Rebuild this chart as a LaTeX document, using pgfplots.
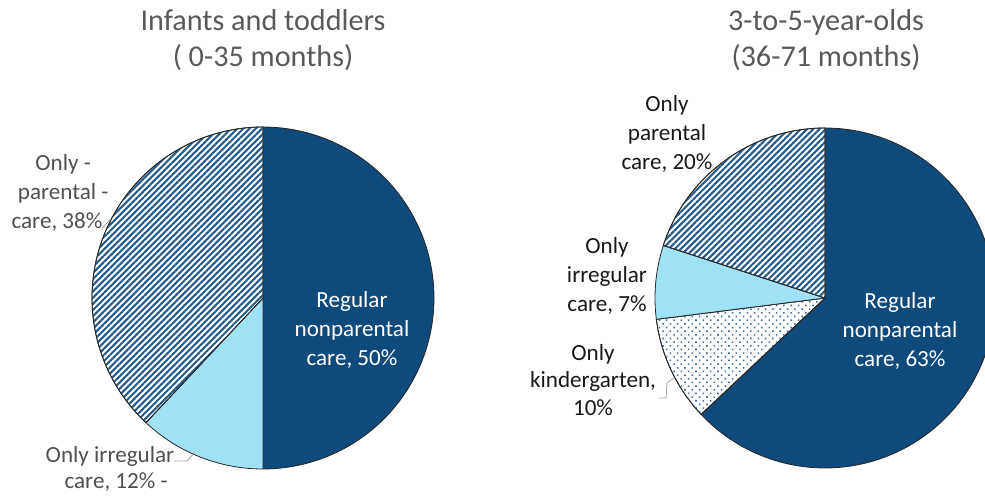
\documentclass[border=0pt]{standalone}
\usepackage{fontspec}
\setmainfont{Carlito}
\usepackage{pgfplots}
\pgfplotsset{compat=1.18}
\usetikzlibrary{patterns.meta}
\definecolor{navy}{HTML}{0E4A7B}
\definecolor{lblue}{HTML}{9FE1F7}
\definecolor{hatchc}{HTML}{245A8B}
\definecolor{dotc}{HTML}{3E6E9E}
\definecolor{titlegray}{HTML}{595959}
\definecolor{lblgray}{HTML}{505050}
\definecolor{leader}{HTML}{A6A6A6}
% share values (percent) of each pie, cumulated from 12 o'clock clockwise
\newcommand{\slice}[6]{% cx, cy, r, from%, to%, style
  \pgfmathsetmacro{\dlo}{90-3.6*#5}%
  \pgfmathsetmacro{\dhi}{90-3.6*#4}%
  \addplot[#6, domain=\dlo:\dhi, samples=140] ({#1+#3*cos(x)}, {#2+#3*sin(x)}) -- (axis cs:#1,#2) -- cycle;
}
\tikzset{
  sl/.style={draw=black!85, line width=0.8pt},
  regular/.style={sl, fill=navy},
  irregular/.style={sl, fill=lblue},
  parental/.style={sl, preaction={fill=white}, pattern={Lines[angle=45,distance=4.4pt,line width=2.1pt]}, pattern color=hatchc},
  kinder/.style={sl, preaction={fill=white}, pattern={Dots[angle=45,distance=5.2pt,radius=1.1pt]}, pattern color=dotc},
}
\begin{document}
\begin{tikzpicture}
\begin{axis}[
  hide axis, scale only axis,
  width=985bp, height=496bp,
  xmin=0, xmax=985, ymin=0, ymax=496,
  clip=true,
]
% Infants and toddlers: Regular 50, Irregular 12, Parental 38
\slice{263}{198}{171}{0}{50}{regular}
\slice{263}{198}{171}{50}{62}{irregular}
\slice{263}{198}{171}{62}{100}{parental}
% 3-to-5-year-olds: Regular 63, Kindergarten 10, Irregular 7, Parental 20
\slice{825}{198}{170}{0}{63}{regular}
\slice{825}{198}{170}{63}{73}{kinder}
\slice{825}{198}{170}{73}{80}{irregular}
\slice{825}{198}{170}{80}{100}{parental}

% titles
\node[align=center, text=titlegray, font=\fontsize{30.3}{36}\selectfont] at (axis cs:263,456) {Infants and toddlers\\( 0-35 months)};
\node[align=center, text=titlegray, font=\fontsize{30.3}{36}\selectfont] at (axis cs:826,456) {3-to-5-year-olds\\(36-71 months)};

% left labels
\node[align=center, text=white, font=\fontsize{23.2}{29}\selectfont] at (axis cs:352,166) {Regular\\nonparental\\care, 50\%};
\node[align=center, text=lblgray, font=\fontsize{23.2}{29.5}\selectfont] at (axis cs:57,303) {Only\rlap{ -}\\parental\rlap{ -}\\care, 38\%};
\node[align=center, text=lblgray, font=\fontsize{23.2}{27}\selectfont] at (axis cs:110,27) {Only irregular\\care, 12\%\rlap{ -}};
\draw[leader, line width=0.8pt] (axis cs:174,35) -- (axis cs:187,35) -- (axis cs:195,44);
\draw[leader, line width=0.8pt] (axis cs:102,268) -- (axis cs:110,276);

% right labels
\node[align=center, text=black!90, font=\fontsize{23.2}{29.5}\selectfont] at (axis cs:667,362) {Only\\parental\\care, 20\%};
\node[align=center, text=black!90, font=\fontsize{23.2}{29.5}\selectfont] at (axis cs:607,220) {Only\\irregular\\care, 7\%};
\node[align=center, text=black!90, font=\fontsize{23.2}{28}\selectfont] at (axis cs:593,116) {Only\\kindergarten,\\10\%};
\node[align=center, text=white, font=\fontsize{23.2}{29}\selectfont] at (axis cs:900,165) {Regular\\nonparental\\care, 63\%};
\draw[leader, line width=0.8pt] (axis cs:659,98) -- (axis cs:666,98) -- (axis cs:667,113) -- (axis cs:674,118);
\end{axis}
\pgfresetboundingbox
\useasboundingbox (current axis.south west) rectangle (current axis.north east);
\end{tikzpicture}
\end{document}
